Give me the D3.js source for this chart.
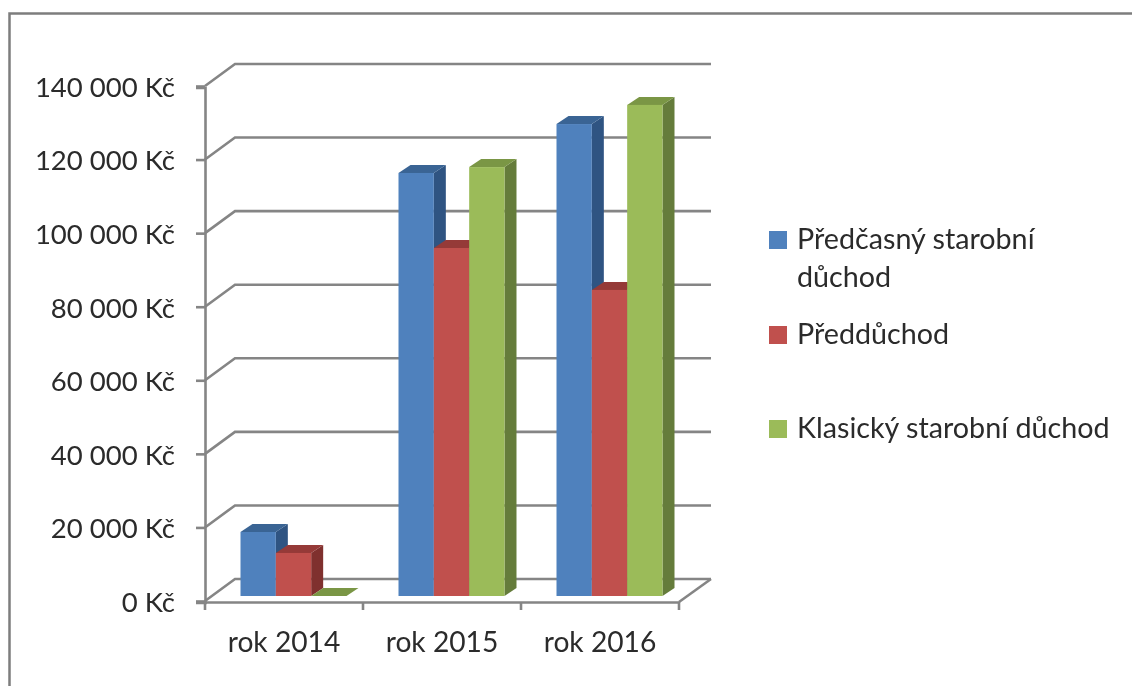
<!DOCTYPE html>
<html>
<head>
<meta charset="utf-8">
<script src="https://cdn.jsdelivr.net/npm/d3@7"></script>
<style>
  html, body { margin: 0; padding: 0; background: #fff; }
  svg { display: block; filter: blur(0.5px); }
  text { font-family: Lato, "Open Sans", sans-serif; fill: #2b2b2b; }
</style>
</head>
<body>
<svg id="chart" width="1132" height="686"></svg>
<script>
var years = ["rok 2014", "rok 2015", "rok 2016"];
var seriesNames = ["Předčasný starobní důchod", "Předdůchod", "Klasický starobní důchod"];
var predcasny = [17400, 115000, 128300];
var predduchod = [11700, 94600, 83200];
var klasicky = [0, 116600, 133500];
var yTicks = [0, 20000, 40000, 60000, 80000, 100000, 120000, 140000];

var front = ["#4f81bd", "#c0504d", "#9bbb59"];
var top3d = ["#3a6494", "#953a38", "#7a9645"];
var side = ["#2f5482", "#7f302e", "#657c3b"];
var lineColor = "#858585";

var svg = d3.select("#chart");

// picture frame, only top and left are in the crop
svg.append("path")
  .attr("d", "M9.5,686V13.5H1132")
  .attr("fill", "none")
  .attr("stroke", "#7d7d7d")
  .attr("stroke-width", 2.5);

var x0 = d3.scaleBand().domain(years).range([205, 679]);
var x1 = d3.scaleBand().domain([0, 1, 2]).range([35.5, 141.5]);
var y = d3.scaleLinear().domain([0, 140000]).range([601, 86]);

var kc = d3.formatLocale({decimal: ",", thousands: " ", grouping: [3], currency: ["", " Kč"]}).format("$,");

var wallDx = 30, wallDy = -22;
var depthX = 12, depthY = -8;
var barBase = 596;

var g = svg.append("g").attr("class", "plot");

// back wall lines
g.selectAll(".grid")
  .data(yTicks)
  .enter().append("path")
    .attr("class", "grid")
    .attr("fill", "none")
    .attr("stroke", lineColor)
    .attr("stroke-width", 2.6)
    .attr("d", function(d) {
      var p = d3.path();
      p.moveTo(205, y(d));
      p.lineTo(205 + wallDx, y(d) + wallDy);
      p.lineTo(711, y(d) + wallDy);
      return p.toString();
    });

// floor edge on the right
g.append("line")
  .attr("x1", 679).attr("y1", y(0) + 1)
  .attr("x2", 711).attr("y2", y(0) + wallDy)
  .attr("stroke", lineColor)
  .attr("stroke-width", 2.6);

// axes
var axisY = d3.axisLeft(y).tickValues(yTicks).tickFormat(kc).tickSize(9).tickPadding(21);
var gy = svg.append("g").attr("class", "axis-y").attr("transform", "translate(205,1.5)").call(axisY);
gy.select(".domain").attr("stroke", lineColor).attr("stroke-width", 2.6);
gy.selectAll(".tick line").attr("stroke", lineColor).attr("stroke-width", 2.6).attr("transform", "translate(0,-1.5)");
gy.selectAll("text").attr("font-size", 27.5).attr("font-family", "Lato").attr("fill", "#2b2b2b");

var axisX = d3.axisBottom(x0).tickSize(0).tickPadding(30);
var gx = svg.append("g").attr("class", "axis-x").attr("transform", "translate(0,602)").call(axisX);
gx.select(".domain").attr("stroke", lineColor).attr("stroke-width", 2.6);
gx.selectAll("text").attr("font-size", 28.2).attr("font-family", "Lato").attr("fill", "#2b2b2b");
gx.selectAll(".sep")
  .data([205, 363, 521, 679])
  .enter().append("line")
    .attr("class", "sep")
    .attr("x1", function(d) { return d; })
    .attr("x2", function(d) { return d; })
    .attr("y1", 0).attr("y2", 8)
    .attr("stroke", lineColor)
    .attr("stroke-width", 2.6);

// bars, drawn left to right so each one covers the side of the previous one
var allSeries = [predcasny, predduchod, klasicky];
var bars = [];
years.forEach(function(yr, i) {
  allSeries.forEach(function(vals, s) {
    bars.push({year: yr, s: s, value: vals[i]});
  });
});

var bar = svg.selectAll(".bar")
  .data(bars)
  .enter().append("g")
    .attr("class", "bar")
    .attr("transform", function(d) { return "translate(" + (x0(d.year) + x1(d.s)) + ",0)"; });

function topY(d) { return barBase - (y(0) - y(d.value)); }

bar.append("path")
  .attr("fill", function(d) { return side[d.s]; })
  .attr("d", function(d) {
    var w = x1.bandwidth(), t = topY(d);
    return "M" + w + "," + barBase + "L" + (w + depthX) + "," + (barBase + depthY) +
      "L" + (w + depthX) + "," + (t + depthY) + "L" + w + "," + t + "Z";
  });
bar.append("path")
  .attr("fill", function(d) { return top3d[d.s]; })
  .attr("d", function(d) {
    var w = x1.bandwidth(), t = topY(d);
    return "M0," + t + "L" + depthX + "," + (t + depthY) +
      "L" + (w + depthX) + "," + (t + depthY) + "L" + w + "," + t + "Z";
  });
bar.append("rect")
  .attr("fill", function(d) { return front[d.s]; })
  .attr("x", 0)
  .attr("y", topY)
  .attr("width", x1.bandwidth())
  .attr("height", function(d) { return barBase - topY(d); });

// legend
var legendRows = [
  {s: 0, y: 240, lines: ["Předčasný starobní", "důchod"]},
  {s: 1, y: 335, lines: ["Předdůchod"]},
  {s: 2, y: 429, lines: ["Klasický starobní důchod"]}
];
var legend = svg.selectAll(".legend")
  .data(legendRows)
  .enter().append("g")
    .attr("class", "legend")
    .attr("transform", function(d) { return "translate(769," + d.y + ")"; });
legend.append("rect")
  .attr("x", 0).attr("y", -9)
  .attr("width", 18).attr("height", 18)
  .attr("fill", function(d) { return front[d.s]; });
legend.each(function(d) {
  d3.select(this).selectAll("text")
    .data(d.lines)
    .enter().append("text")
      .attr("x", 28)
      .attr("y", function(t, i) { return 9 + i * 38; })
      .attr("font-size", 28.7)
      .text(function(t) { return t; });
});
</script>
</body>
</html>
